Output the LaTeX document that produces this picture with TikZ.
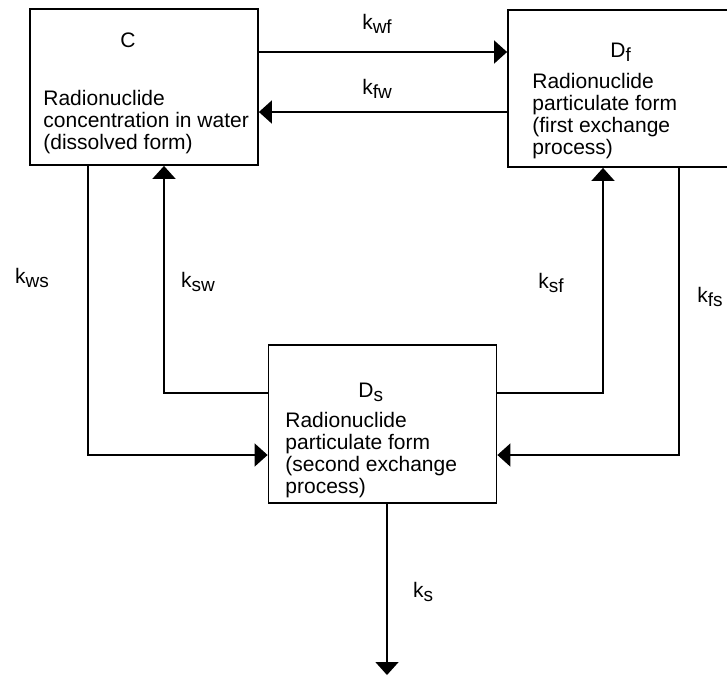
\documentclass[tikz,border=0pt]{standalone}
\usepackage{fontspec}
\setmainfont{Liberation Sans}
\usetikzlibrary{arrows.meta,positioning}

\newcommand{\rate}[1]{k\raisebox{-2.2pt}{\fontsize{9.5}{10}\selectfont #1}}
\newcommand{\comp}[1]{D\raisebox{-2.2pt}{\fontsize{9.5}{10}\selectfont #1}}

\begin{document}
\begin{tikzpicture}[x=0.5pt, y=-0.5pt,
        font=\fontsize{10.5}{11}\selectfont,
        compartment/.style={draw=black, line width=0.9pt, minimum width=114pt, minimum height=78pt, inner sep=0pt},
        title/.style={inner sep=0pt, anchor=base west},
        body/.style={align=left, inner sep=0pt, anchor=north west},
        flow/.style={-{Triangle[length=6.5pt, width=11.5pt]}, line width=0.8pt},
        rate/.style={inner sep=0pt},
    ]
        \clip (0,0) rectangle (727,677);

        % Compartments
        \node[compartment] (C) at (144,87) {};
        \node[compartment, minimum height=78.5pt] (Df) at (622,88.5) {};
        \node[compartment, minimum height=79pt] (Ds) at (382.5,424) {};

        % Titles
        \node[title] (Ct) at (120,47) {C};
        \node[title] (Dft) at (610,57) {\comp{f}};
        \node[title] (Dst) at (358,397) {\comp{s}};

        % Descriptions
        \node[body] (Cb) at (43,90) {Radionuclide\\concentration in water\\(dissolved form)};
        \node[body] (Dfb) at (532,73) {Radionuclide\\particulate form\\(first exchange\\process)};
        \node[body] (Dsb) at (285,412) {Radionuclide\\particulate form\\(second exchange\\process)};

        % Exchanges
        \draw[flow] (C.east |- 0,52) -- (Df.west |- 0,52);
        \draw[flow] (Df.west |- 0,112) -- (C.east |- 0,112);
        \draw[flow] (C.south -| 88,0) |- (Ds.west |- 0,455);
        \draw[flow] (Ds.west |- 0,393) -| (C.south -| 164,0);
        \draw[flow] (Ds.east |- 0,393) -| (Df.south -| 603,0);
        \draw[flow] (Df.south -| 679,0) |- (Ds.east |- 0,455);

        % Loss
        \coordinate (sink) at (387,675);
        \draw[flow] (Ds.south -| 387,0) -- (sink);

        % Rate labels
        \node[rate] (kwf) at (377,24) {\rate{wf}};
        \node[rate] (kfw) at (377,89) {\rate{fw}};
        \node[rate] (kws) at (32,278) {\rate{ws}};
        \node[rate] (ksw) at (198,282) {\rate{sw}};
        \node[rate] (ksf) at (551,283) {\rate{sf}};
        \node[rate] (kfs) at (710,297) {\rate{fs}};
        \node[rate] (ks) at (423,592) {\rate{s}};
    \end{tikzpicture}
\end{document}
